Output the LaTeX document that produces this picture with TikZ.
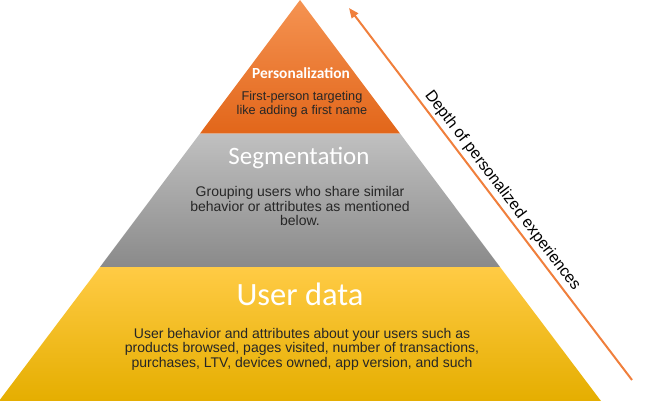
\documentclass[tikz,border=0pt]{standalone}
\usepackage{fontspec}
\setmainfont{Liberation Sans}
\newfontfamily\calibri{Carlito}
\usetikzlibrary{arrows.meta}
\definecolor{orTop}{HTML}{F59352}
\definecolor{orBot}{HTML}{E2661A}
\definecolor{grTop}{HTML}{C0C0C0}
\definecolor{grBot}{HTML}{8A8A8A}
\definecolor{yeTop}{HTML}{FFCB45}
\definecolor{yeMid}{HTML}{FFC20A}
\definecolor{yeBot}{HTML}{E5AE00}
\definecolor{arrowor}{HTML}{F07F3C}
\definecolor{bodytext}{HTML}{262626}
\begin{document}
\begin{tikzpicture}[x=1pt,y=-1pt,
  title/.style={text=white, inner sep=0pt},
  body/.style={text=bodytext, align=center, inner sep=0pt},
  depth/.style={arrowor, line width=2pt, -{Triangle[length=10pt,width=8pt]}},
]
\useasboundingbox (0,0) rectangle (650,401);
% tiers
\shade[top color=orTop, bottom color=orBot] (300,0) -- (400,133.5) -- (200,133.5) -- cycle;
\shade[top color=grTop, bottom color=grBot] (200,133.5) -- (400,133.5) -- (500,267) -- (100,267) -- cycle;
\shade[top color=yeTop, middle color=yeMid, bottom color=yeBot] (100,267) -- (500,267) -- (601,401) -- (-1,401) -- cycle;
% texts
\node[title, font=\calibri\bfseries\fontsize{15.4}{18}\selectfont] (ptitle) at (301,73) {Personalization};
\node[body, font=\fontsize{12.7}{14.3}\selectfont] (pbody) at (302,104) {First-person targeting\\like adding a first name};
\node[title, font=\calibri\fontsize{25}{30}\selectfont] (stitle) at (299,158) {Segmentation};
\node[body, font=\fontsize{14}{14.5}\selectfont] (sbody) at (300,206) {Grouping users who share similar\\behavior or attributes as mentioned\\below.};
\node[title, font=\calibri\fontsize{32.5}{36}\selectfont] (utitle) at (300,294) {User data};
\node[body, font=\fontsize{14}{14.5}\selectfont] (ubody) at (302,349) {User behavior and attributes about your users such as\\products browsed, pages visited, number of transactions,\\purchases, LTV, devices owned, app version, and such};
% arrow
\coordinate (tail) at (632,380);
\coordinate (head) at (349,8);
\draw[depth] (tail) -- (head) node[pos=0.49, sloped, above=3pt, text=black, font=\fontsize{16}{18}\selectfont, inner sep=0pt] (dlabel) {Depth of personalized experiences};
\end{tikzpicture}
\end{document}
